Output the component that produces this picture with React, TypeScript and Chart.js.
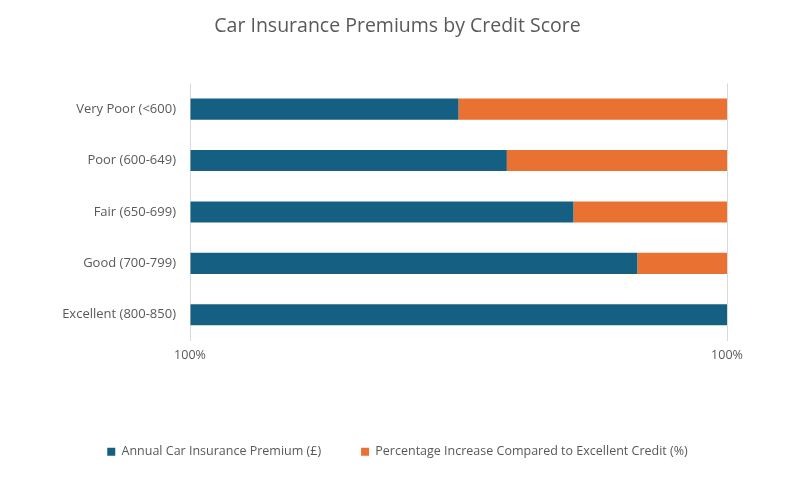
import React, { useEffect, useRef } from "react";
import { Chart, registerables } from "chart.js";

Chart.register(...registerables);

const categories = [
  "Very Poor (<600)",
  "Poor (600-649)",
  "Fair (650-699)",
  "Good (700-799)",
  "Excellent (800-850)",
];
const premiumShare = [50, 59, 71.4, 83.3, 100];
const increaseShare = [50, 41, 28.6, 16.7, 0];
const xTickValues = [0, 100];
const xTickLabels = ["100%", "100%"];
const seriesNames = [
  "Annual Car Insurance Premium (£)",
  "Percentage Increase Compared to Excellent Credit (%)",
];
const titleText = "Car Insurance Premiums by Credit Score";

const FONT = "'Open Sans', sans-serif";
const TEXT = "#595959";

export default function App() {
  const ref = useRef<HTMLCanvasElement | null>(null);
  useEffect(() => {
    if (!ref.current) return;
    const chart = new Chart(ref.current, {
      type: "bar",
      data: {
        labels: categories,
        datasets: [
          {
            label: seriesNames[0],
            data: premiumShare,
            backgroundColor: "#156082",
            categoryPercentage: 1,
            barPercentage: 0.41,
          },
          {
            label: seriesNames[1],
            data: increaseShare,
            backgroundColor: "#E97132",
            categoryPercentage: 1,
            barPercentage: 0.41,
          },
        ],
      },
      options: {
        indexAxis: "y",
        responsive: false,
        animation: false,
        layout: { padding: { left: 0, right: 0, top: 0, bottom: 9 } },
        plugins: {
          title: {
            display: true,
            text: titleText,
            color: TEXT,
            font: { family: FONT, size: 19.5, weight: "normal" },
            padding: { top: 15, bottom: 45 },
          },
          legend: {
            position: "bottom",
            labels: {
              color: TEXT,
              font: { family: FONT, size: 12.5 },
              boxWidth: 8,
              boxHeight: 8,
              padding: 40,
            },
          },
          tooltip: { enabled: false },
        },
        scales: {
          x: {
            stacked: true,
            min: 0,
            max: 100,
            afterBuildTicks: (scale: any) => {
              scale.ticks = xTickValues.map((v) => ({ value: v }));
            },
            afterFit: (scale: any) => {
              scale.height = 65;
            },
            ticks: {
              color: TEXT,
              font: { family: FONT, size: 12.5 },
              padding: 7,
              maxRotation: 0,
              callback: (_v: any, i: number) => xTickLabels[i],
            },
            grid: { color: "#d9d9d9", drawTicks: false, lineWidth: 1 },
            border: { display: false },
          },
          y: {
            stacked: true,
            afterFit: (scale: any) => {
              scale.width = 190;
            },
            ticks: {
              color: TEXT,
              font: { family: FONT, size: 13 },
              padding: 14,
            },
            grid: { display: false, drawTicks: false },
            border: { display: false },
          },
          yRight: {
            axis: "y",
            type: "category",
            position: "right",
            afterFit: (scale: any) => {
              scale.width = 68;
            },
            ticks: { display: false },
            grid: { display: false, drawTicks: false },
            border: { display: false },
          },
        },
      },
    });
    return () => chart.destroy();
  }, []);
  return (
    <div style={{ position: "absolute", left: 0, top: 0, width: 795, height: 477, background: "#fff" }}>
      <canvas ref={ref} width={795} height={477} />
    </div>
  );
}
